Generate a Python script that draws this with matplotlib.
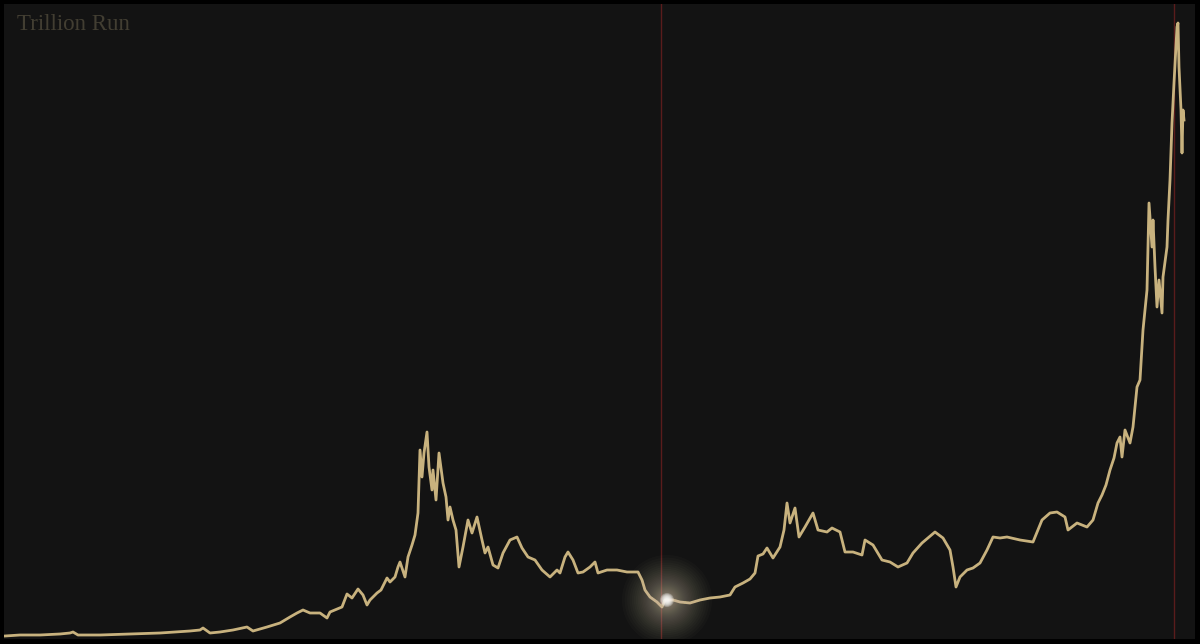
import matplotlib
matplotlib.use('Agg')
import matplotlib.pyplot as plt
import numpy as np

# time position (arbitrary units) and level of the series
t = [5, 20, 40, 60, 70, 73, 78, 100, 130, 160, 190, 200, 203, 210, 220, 233, 247, 253, 267, 280,
     290, 297, 303, 310, 320, 327, 330, 342, 347, 352, 358, 363, 367, 370, 377, 381, 387, 390, 395, 398,
     400, 405, 408, 412, 415, 418, 420, 422, 424, 427, 429, 432, 433, 436, 439, 443, 446, 448, 450, 453,
     456, 459, 463, 468, 472, 477, 482, 485, 488, 493, 498, 503, 510, 517, 522, 528, 535, 542, 550, 557,
     560, 565, 568, 573, 578, 583, 590, 595, 598, 607, 617, 627, 638, 642, 645, 650, 657, 662, 665, 673,
     680, 690, 700, 710, 720, 730, 735, 743, 750, 755, 758, 763, 767, 770, 773, 780, 784, 787, 790, 795,
     799, 805, 813, 818, 827, 832, 840, 845, 853, 862, 865, 873, 882, 890, 898, 907, 913, 922, 935, 943,
     950, 953, 956, 960, 967, 973, 980, 987, 993, 1000, 1007, 1020, 1033, 1042, 1050, 1057, 1065, 1068, 1077, 1087,
     1093, 1098, 1102, 1106, 1110, 1114, 1117, 1120, 1122, 1125, 1130, 1133, 1137, 1140, 1143, 1147, 1149, 1152, 1153, 1155,
     1157, 1159, 1162, 1163, 1167, 1168, 1170, 1172, 1174, 1177, 1178, 1179, 1181, 1182, 1183, 1184]
level = [4, 5, 5, 6, 7, 8, 5, 5, 6, 7, 9, 10, 12, 7, 8, 10, 13, 9, 13, 17,
         23, 27, 30, 27, 27, 22, 28, 33, 46, 42, 51, 45, 35, 40, 47, 50, 62, 58, 63, 73,
         78, 63, 83, 95, 105, 127, 190, 163, 187, 208, 173, 150, 170, 140, 187, 157, 143, 120, 133, 120,
         110, 73, 93, 120, 107, 123, 100, 87, 93, 75, 72, 87, 100, 103, 92, 83, 80, 70, 63, 70,
         67, 83, 88, 80, 67, 68, 73, 78, 67, 70, 70, 68, 68, 60, 50, 43, 38, 33, 40, 40,
         38, 37, 40, 42, 43, 45, 53, 57, 61, 67, 84, 86, 92, 87, 82, 93, 110, 137, 117, 132,
         103, 113, 127, 110, 108, 112, 108, 88, 88, 85, 100, 95, 80, 78, 73, 77, 87, 97, 108, 102,
         90, 73, 53, 63, 70, 72, 77, 90, 103, 102, 103, 100, 98, 120, 127, 128, 123, 110, 117, 113,
         120, 137, 145, 155, 170, 182, 197, 203, 183, 210, 197, 213, 253, 260, 310, 350, 437, 393, 420, 373,
         333, 360, 327, 363, 393, 420, 460, 517, 557, 613, 617, 573, 530, 487, 530, 520]

title = "Trillion Run"
markers = [661, 1174]
glow_t, glow_level = 667, 40

fig = plt.figure(figsize=(12, 6.44), dpi=100)
fig.patch.set_facecolor('#000000')
ax = fig.add_axes([4 / 1200, 5 / 644, 1191 / 1200, 635 / 644])
ax.set_facecolor('#131313')
ax.set_xlim(4, 1195)
ax.set_ylim(1, 636)
ax.set_xticks([])
ax.set_yticks([])
for s in ax.spines.values():
    s.set_visible(False)

# red marker lines
for m in markers:
    ax.axvline(m, color='#5a1c1c', lw=1.0, zorder=1)

ax.plot(t, level, color='#c8b27e', lw=2.0, solid_joinstyle='round', zorder=3)

# soft glow on the line: faint discs, denser near the centre
for r in np.geomspace(45, 3, 45):
    ax.scatter([glow_t], [glow_level], s=(2 * r * 0.72) ** 2, color='#e6d6ba',
               alpha=0.022, edgecolors='none', zorder=4)
for r in np.linspace(7, 2, 8):
    ax.scatter([glow_t], [glow_level], s=(2 * r * 0.72) ** 2, color='#ffffff',
               alpha=0.22, edgecolors='none', zorder=5)

ax.text(17, 626, title, family=['Liberation Serif', 'DejaVu Serif'], fontsize=16.5,
        color='#423e32', ha='left', va='top')

fig.savefig('out.png', dpi=100, facecolor=fig.get_facecolor())
